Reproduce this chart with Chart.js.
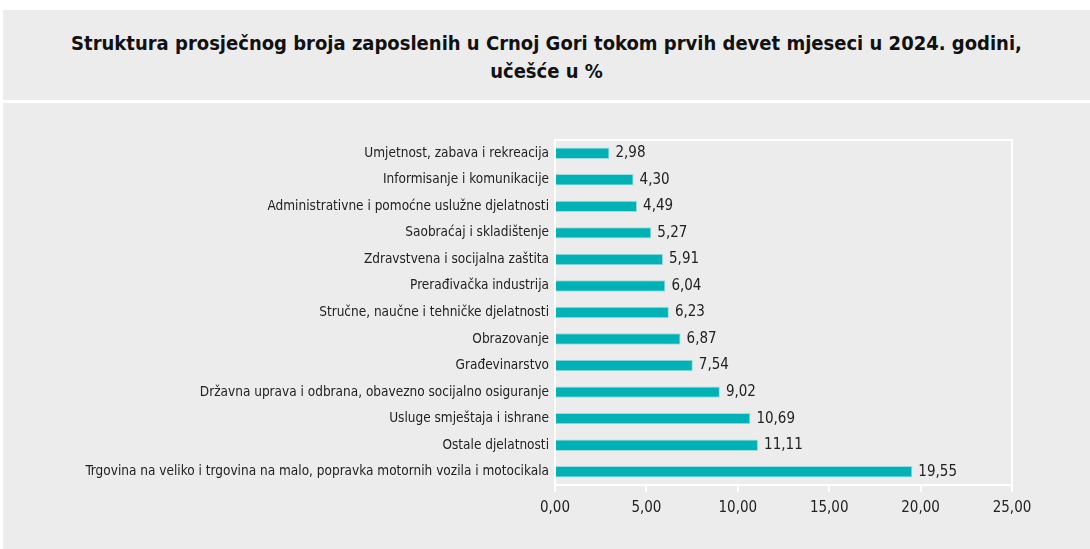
<!DOCTYPE html>
<html>
<head>
<meta charset="utf-8">
<script src="https://cdn.jsdelivr.net/npm/chart.js@4"></script>
<style>
  body { margin: 0; background: #fff; width: 1090px; height: 549px; position: relative; overflow: hidden; }
  #titleBox { position: absolute; left: 3px; top: 10px; width: 1087px; height: 90px; background: #ececec;
    font-family: "Liberation Sans Narrow", "DejaVu Sans Condensed", sans-serif; font-weight: bold; font-size: 20px;
    color: #111; text-align: center; line-height: 28px; box-sizing: border-box; padding-top: 19px; }
  #chartBox { position: absolute; left: 3px; top: 103px; width: 1087px; height: 446px; background: #ececec; }
</style>
</head>
<body>
<div id="titleBox">Struktura prosječnog broja zaposlenih u Crnoj Gori tokom prvih devet mjeseci u 2024. godini,<br>učešće u %</div>
<div id="chartBox"><canvas id="myChart" width="1087" height="446"></canvas></div>
<script>
const categories = [
    'Umjetnost, zabava i rekreacija',
    'Informisanje i komunikacije',
    'Administrativne i pomoćne uslužne djelatnosti',
    'Saobraćaj i skladištenje',
    'Zdravstvena i socijalna zaštita',
    'Prerađivačka industrija',
    'Stručne, naučne i tehničke djelatnosti',
    'Obrazovanje',
    'Građevinarstvo',
    'Državna uprava i odbrana, obavezno socijalno osiguranje',
    'Usluge smještaja i ishrane',
    'Ostale djelatnosti',
    'Trgovina na veliko i trgovina na malo, popravka motornih vozila i motocikala'
];
const shares = [2.98, 4.30, 4.49, 5.27, 5.91, 6.04, 6.23, 6.87, 7.54, 9.02, 10.69, 11.11, 19.55];
const xTicks = [0, 5, 10, 15, 20, 25];

const fontFam = '"Liberation Sans Narrow", "DejaVu Sans Condensed", sans-serif';
const fmt = v => v.toFixed(2).replace('.', ',');

const frame = {
    id: 'frame',
    beforeDatasetsDraw(chart) {
        const a = chart.chartArea, c = chart.ctx;
        c.save();
        c.strokeStyle = '#ffffff';
        c.lineWidth = 2;
        c.strokeRect(a.left, a.top, a.right - a.left, a.bottom - a.top);
        c.restore();
    }
};

const valueLabels = {
    id: 'valueLabels',
    afterDatasetsDraw(chart) {
        const c = chart.ctx;
        c.save();
        c.font = '15px ' + fontFam;
        c.fillStyle = '#222';
        c.textBaseline = 'middle';
        chart.getDatasetMeta(0).data.forEach((bar, i) => {
            c.fillText(fmt(shares[i]), bar.x + 6, bar.y);
        });
        c.restore();
    }
};

const ctx = document.getElementById('myChart').getContext('2d');
const myChart = new Chart(ctx, {
    type: 'bar',
    data: {
        labels: categories,
        datasets: [{
            data: shares,
            backgroundColor: '#00b2b5',
            borderColor: '#9edbdc',
            borderWidth: 1,
            barPercentage: 0.43,
            categoryPercentage: 1
        }]
    },
    options: {
        indexAxis: 'y',
        responsive: false,
        animation: false,
        layout: { padding: { left: 0, right: 78, top: 37, bottom: 0 } },
        plugins: { legend: { display: false }, tooltip: { enabled: false } },
        scales: {
            x: {
                min: 0,
                max: 25,
                afterBuildTicks: axis => { axis.ticks = xTicks.map(v => ({ value: v })); },
                afterFit: axis => { axis.height = 64; },
                grid: { drawOnChartArea: false, color: '#ffffff', lineWidth: 2, tickLength: 7 },
                border: { color: '#ffffff', width: 2 },
                ticks: {
                    callback: v => fmt(v),
                    color: '#222',
                    padding: 7,
                    maxRotation: 0,
                    font: { family: fontFam, size: 15 }
                }
            },
            y: {
                afterFit: axis => { axis.width = 552; },
                grid: { display: false, drawTicks: false },
                border: { color: '#ffffff', width: 2 },
                ticks: {
                    color: '#222',
                    padding: 6,
                    autoSkip: false,
                    font: { family: fontFam, size: 13.5 }
                }
            }
        }
    },
    plugins: [frame, valueLabels]
});
</script>
</body>
</html>
